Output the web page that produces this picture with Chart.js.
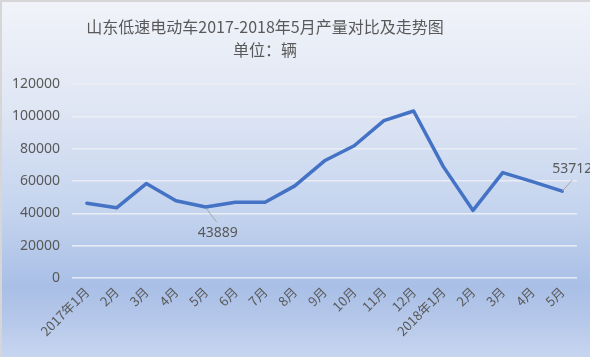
<!DOCTYPE html>
<html>
<head>
<meta charset="utf-8">
<script src="https://cdn.jsdelivr.net/npm/chart.js@4.4.1/dist/chart.umd.min.js"></script>
<style>
  html, body { margin: 0; padding: 0; }
  #wrap {
    position: relative; width: 590px; height: 357px; box-sizing: border-box;
    border-top: 2px solid #d6d6d6; border-left: 2px solid #d6d6d6;
    background: linear-gradient(to bottom, #f1f3f9 0%, #dfe6f4 30%, #c3d3ee 60%, #a9bfe6 80%, #b3c6e9 88%, #c7d5ef 100%);
  }
  canvas { position: absolute; left: -2px; top: -2px; }
</style>
</head>
<body>
<div id="wrap"><canvas id="c" width="590" height="357"></canvas></div>
<script>
const titleLines = ['山东低速电动车2017-2018年5月产量对比及走势图', '单位：辆'];
const categories = ['2017年1月','2月','3月','4月','5月','6月','7月','8月','9月','10月','11月','12月','2018年1月','2月','3月','4月','5月'];
const production = [46200, 43400, 58400, 47800, 43889, 46800, 46800, 57000, 72500, 81800, 97300, 103300, 68900, 41800, 65200, 59600, 53712];
const yTicks = [0, 20000, 40000, 60000, 80000, 100000, 120000];
const labelledIndexes = [4, 16];

const textColor = '#595959';

const titlePlugin = {
  id: 'customTitle',
  afterDraw(chart) {
    const ctx = chart.ctx;
    ctx.save();
    ctx.fillStyle = textColor;
    ctx.font = '16px "Noto Sans CJK SC", "Noto Sans", sans-serif';
    ctx.textAlign = 'center';
    ctx.textBaseline = 'middle';
    ctx.fillText(titleLines[0], 265, 27);
    ctx.fillText(titleLines[1], 265, 50);
    ctx.restore();
  }
};

const dataLabelPlugin = {
  id: 'dataLabels',
  afterDatasetsDraw(chart) {
    const ctx = chart.ctx;
    const meta = chart.getDatasetMeta(0);
    ctx.save();
    ctx.font = '14px "Noto Sans", sans-serif';
    ctx.fillStyle = textColor;
    ctx.textAlign = 'center';
    ctx.textBaseline = 'middle';
    ctx.strokeStyle = '#a6a6a6';
    ctx.lineWidth = 1;
    labelledIndexes.forEach((i, k) => {
      const p = meta.data[i];
      const v = String(production[i]);
      if (k === 0) {
        ctx.beginPath(); ctx.moveTo(p.x + 1, p.y + 2); ctx.lineTo(p.x + 11, p.y + 15); ctx.stroke();
        ctx.fillText(v, p.x + 12, p.y + 26);
      } else {
        ctx.beginPath(); ctx.moveTo(p.x, p.y); ctx.lineTo(p.x + 10, p.y - 11); ctx.stroke();
        ctx.fillText(v, p.x + 10, p.y - 22);
      }
    });
    ctx.restore();
  }
};

new Chart(document.getElementById('c'), {
  type: 'line',
  data: {
    labels: categories,
    datasets: [{
      data: production,
      borderColor: '#4472c4',
      borderWidth: 3.5,
      borderJoinStyle: 'round',
      borderCapStyle: 'round',
      pointRadius: 0,
      tension: 0,
      fill: false
    }]
  },
  options: {
    responsive: false,
    animation: false,
    devicePixelRatio: 1,
    layout: { padding: { top: 84, right: 13, bottom: 0, left: 0 } },
    plugins: { legend: { display: false }, title: { display: false }, tooltip: { enabled: false } },
    scales: {
      x: {
        offset: true,
        grid: { display: false, drawTicks: false },
        border: { display: false },
        ticks: {
          color: textColor,
          font: { size: 13, family: '"Noto Sans CJK SC", "Noto Sans", sans-serif' },
          maxRotation: 45, minRotation: 45, autoSkip: false, padding: 6
        },
        afterFit(s) { s.height = 79; }
      },
      y: {
        min: 0, max: 120000,
        afterBuildTicks(s) { s.ticks = yTicks.map(v => ({ value: v })); },
        grid: { color: 'rgba(236,238,243,0.9)', lineWidth: 1.5, drawTicks: false },
        border: { display: false },
        ticks: {
          color: textColor,
          font: { size: 14, family: '"Noto Sans", sans-serif' },
          padding: 12,
          callback: v => String(v)
        },
        afterFit(s) { s.width = 72; }
      }
    }
  },
  plugins: [titlePlugin, dataLabelPlugin]
});
</script>
</body>
</html>
